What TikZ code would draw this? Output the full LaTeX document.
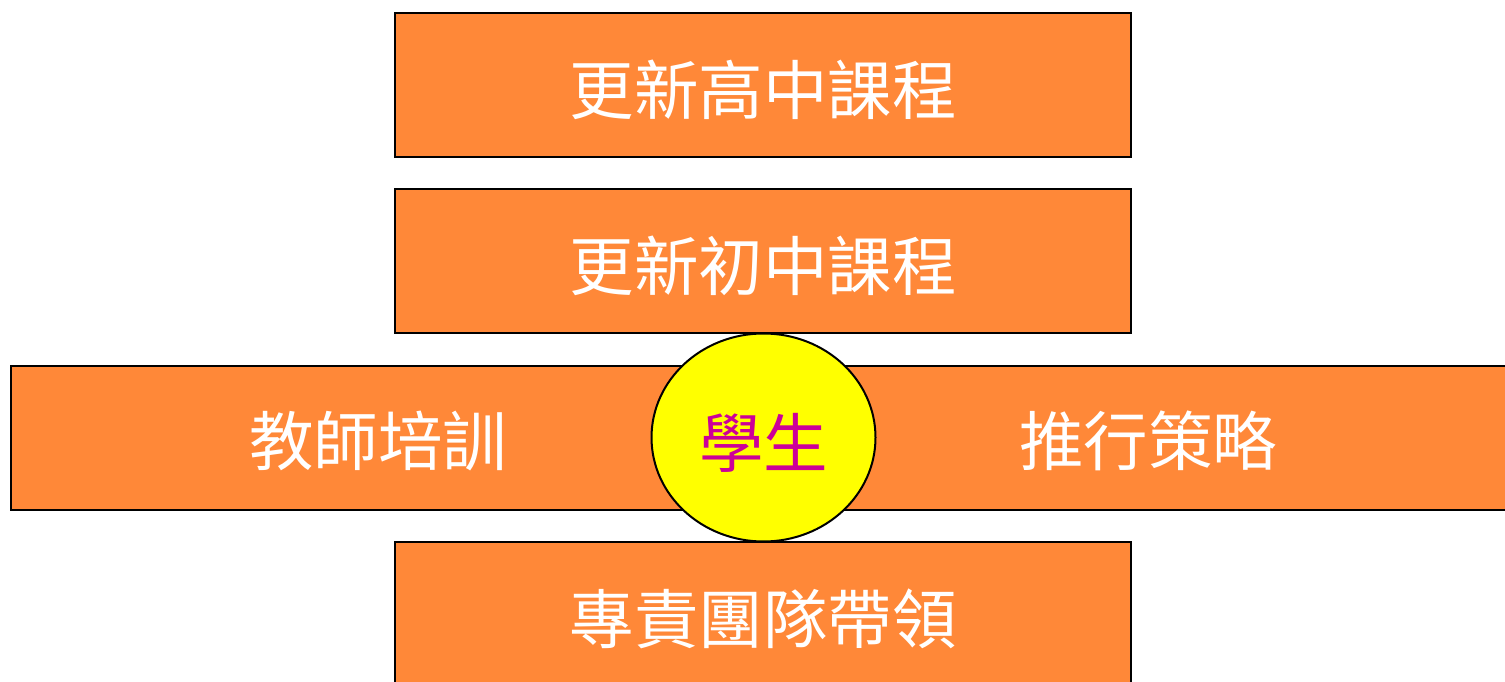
\documentclass[tikz,border=0pt]{standalone}
\usepackage{fontspec}
\newfontfamily\cjk{Noto Sans CJK TC}
\usetikzlibrary{shapes.geometric}
\definecolor{boxorange}{RGB}{255,136,56}
\definecolor{ballyellow}{RGB}{255,255,0}
\definecolor{studmag}{RGB}{204,0,153}
\tikzset{
  orangebox/.style={draw=black, line width=2pt, fill=boxorange, inner sep=0pt},
  boxtext/.style={text=white, font=\cjk\fontsize{64.5}{72}\selectfont, inner sep=0pt},
  ball/.style={draw=black, line width=2pt, fill=ballyellow, ellipse, inner sep=0pt,
    minimum width=224pt, minimum height=208pt},
}
\begin{document}
\begin{tikzpicture}[x=1pt,y=-1pt]
\useasboundingbox (0,0) rectangle (1505,682);
\node[orangebox, minimum width=736pt, minimum height=144pt] (b1) at (763,85.5) {};
\node[boxtext] (t1) at (763,90) {更新高中課程};
\node[orangebox, minimum width=736pt, minimum height=144pt] (b2) at (763,261) {};
\node[boxtext] (t2) at (763,266) {更新初中課程};
\node[orangebox, minimum width=1500pt, minimum height=144pt] (b3) at (761,437.5) {};
\node[boxtext] (t3) at (378,441) {教師培訓};
\node[boxtext] (t4) at (1148,441) {推行策略};
\node[orangebox, minimum width=736pt, minimum height=150pt] (b4) at (763,617) {};
\node[boxtext] (t5) at (763,619) {專責團隊帶領};
\node[ball] (s) at (763.5,437.5) {};
\node[boxtext, text=studmag] (st) at (763.5,443) {學生};
\end{tikzpicture}
\end{document}
